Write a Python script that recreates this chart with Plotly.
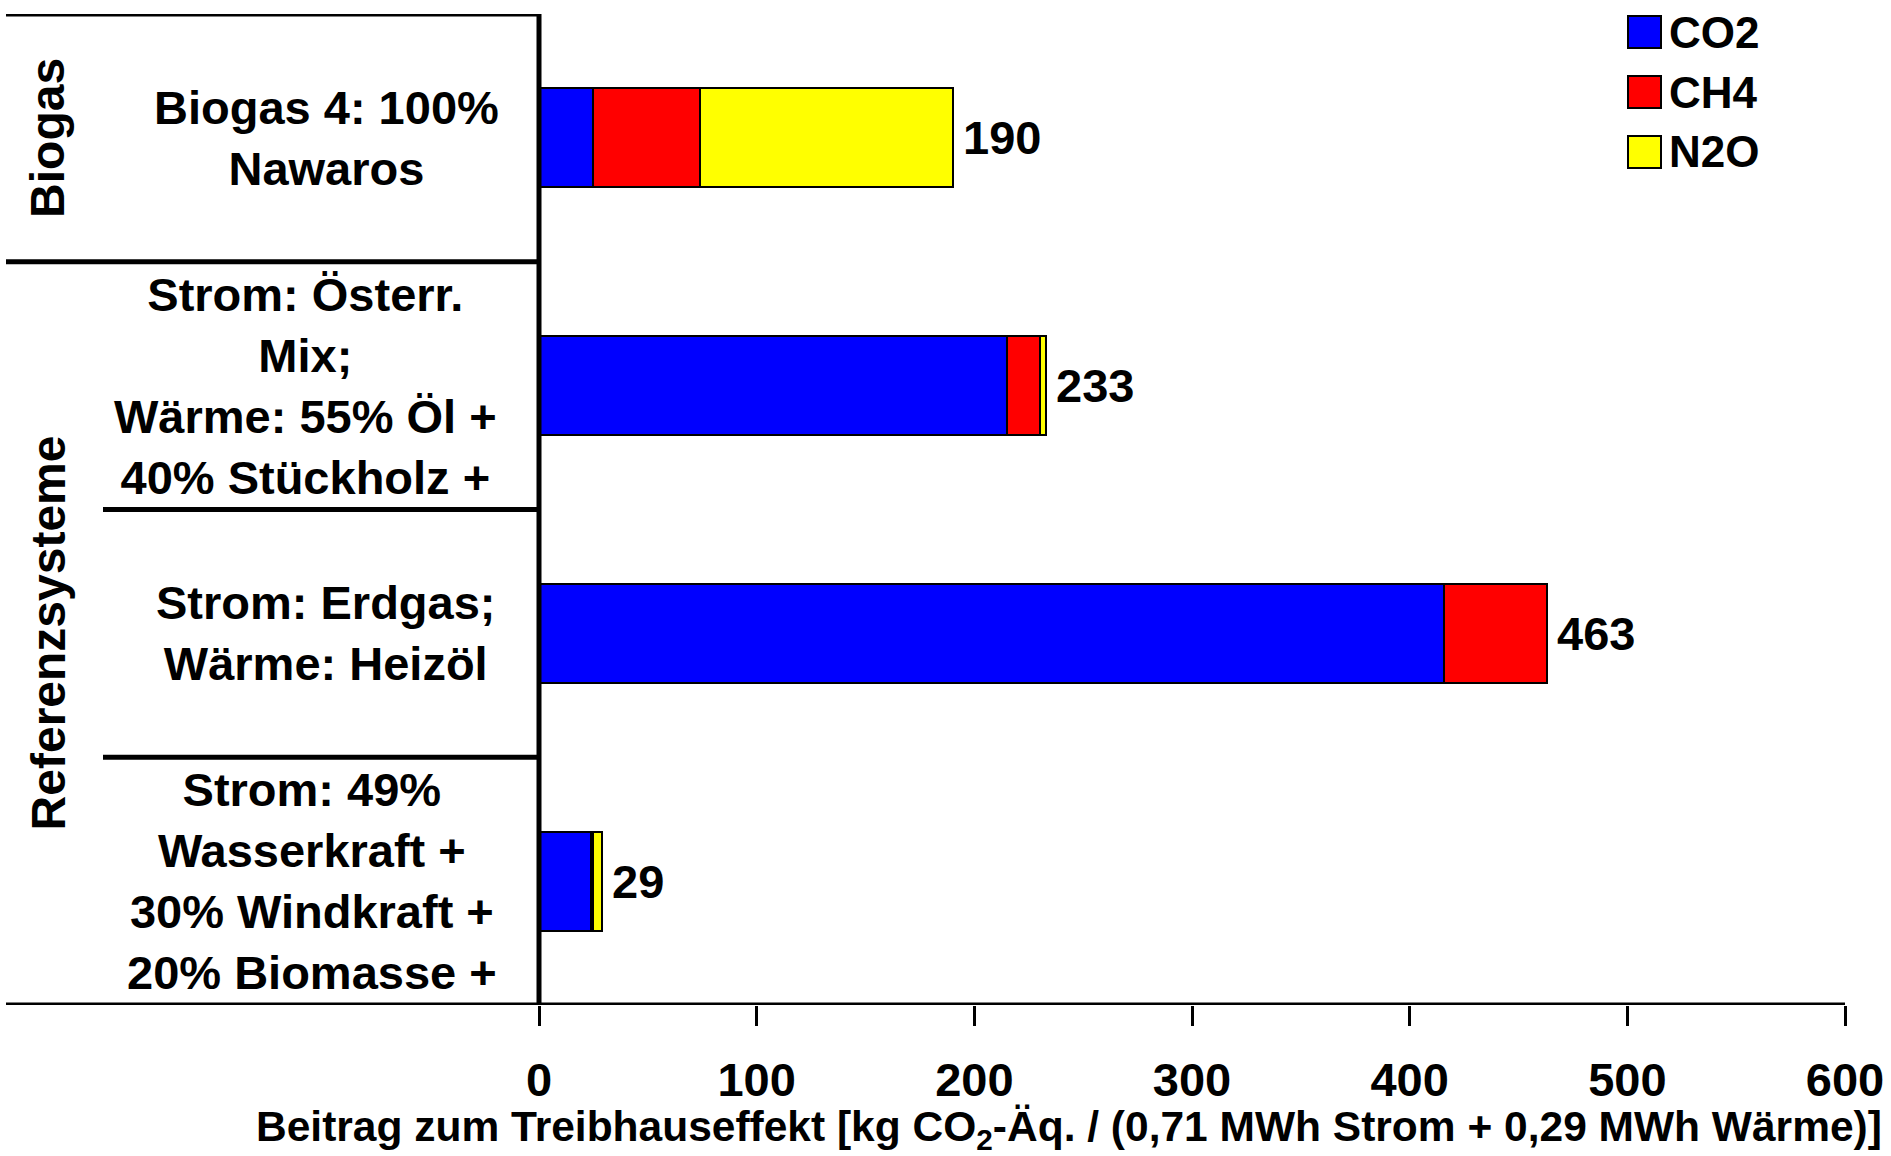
import plotly.graph_objects as go

# data
categories = [
    "Biogas 4: 100%<br>Nawaros",
    "Strom: Österr.<br>Mix;<br>Wärme: 55% Öl +<br>40% Stückholz +",
    "Strom: Erdgas;<br>Wärme: Heizöl",
    "Strom: 49%<br>Wasserkraft +<br>30% Windkraft +<br>20% Biomasse +",
]
groups = ["Biogas", "Referenzsysteme"]
series = ["CO2", "CH4", "N2O"]
co2 = [25, 215, 416, 24]
ch4 = [49, 15, 47, 1]
n2o = [116, 3, 0, 4]
totals = [190, 233, 463, 29]
x_ticks = [0, 100, 200, 300, 400, 500, 600]

colors = ["#0000FF", "#FF0000", "#FFFF00"]
FONT = "Liberation Sans, Arial, sans-serif"

W, H = 1891, 1156
L, R, T, B = 539, 1845, 14, 1005  # plot area in pixels


def px(x):
    return (x - L) / (R - L)


def py(y):
    return 1 - (y - T) / (B - T)


fig = go.Figure()
ypos = list(range(len(categories)))
for name, vals, col in zip(series, [co2, ch4, n2o], colors):
    fig.add_trace(go.Bar(
        x=vals, y=ypos, orientation="h", name=name, width=0.4,
        marker=dict(color=col, line=dict(color="black", width=2)),
        showlegend=False,
    ))

ann = []
# value labels
for i, t in enumerate(totals):
    ann.append(dict(x=t, y=i, xref="x", yref="y", text=str(t), showarrow=False,
                    xanchor="left", xshift=8, font=dict(size=47)))

# category labels
label_cx = [326, 305, 326, 312]
for i, (c, cx) in enumerate(zip(categories, label_cx)):
    ann.append(dict(x=px(cx), y=i, xref="paper", yref="y", text=c, showarrow=False,
                    xanchor="center", yanchor="middle", font=dict(size=47)))

# group labels
ann.append(dict(x=px(48), y=0, xref="paper", yref="y", text=groups[0], textangle=-90,
                xanchor="center", yanchor="middle", showarrow=False, font=dict(size=48)))
ann.append(dict(x=px(48), y=2, xref="paper", yref="y", text=groups[1], textangle=-90,
                xanchor="center", yanchor="middle", showarrow=False, font=dict(size=48)))

# x axis title
ann.append(dict(x=px(1884), y=py(1129), xref="paper", yref="paper",
                text="Beitrag zum Treibhauseffekt [kg CO<sub>2</sub>-Äq. / (0,71 MWh Strom + 0,29 MWh Wärme)]",
                showarrow=False, xanchor="right", yanchor="middle", font=dict(size=42.5)))

# legend
shapes = []
for k, (name, col) in enumerate(zip(series, colors)):
    y0 = 16 + k * 60
    shapes.append(dict(type="rect", xref="paper", yref="paper",
                       x0=px(1628), x1=px(1661), y0=py(y0 + 32), y1=py(y0),
                       fillcolor=col, line=dict(color="black", width=2)))
    ann.append(dict(x=px(1667), y=py(y0 + 16), xref="paper", yref="paper", text=name,
                    showarrow=False, xanchor="left", yanchor="middle", font=dict(size=44)))

# table lines
line = dict(color="black", width=5)
shapes.append(dict(type="line", xref="paper", yref="y", x0=px(6), x1=0, y0=-0.5, y1=-0.5, line=line))
shapes.append(dict(type="line", xref="paper", yref="y", x0=px(6), x1=0, y0=0.5, y1=0.5, line=line))
shapes.append(dict(type="line", xref="paper", yref="y", x0=px(103), x1=0, y0=1.5, y1=1.5, line=line))
shapes.append(dict(type="line", xref="paper", yref="y", x0=px(103), x1=0, y0=2.5, y1=2.5, line=line))
shapes.append(dict(type="line", xref="paper", yref="y", x0=px(6), x1=1, y0=3.5, y1=3.5, line=line))
shapes.append(dict(type="line", xref="paper", yref="y", x0=0, x1=0, y0=-0.5, y1=3.5, line=line))

fig.update_layout(
    width=W, height=H,
    margin=dict(l=L, r=W - R, t=T, b=H - B, pad=0, autoexpand=False),
    barmode="stack",
    plot_bgcolor="white", paper_bgcolor="white",
    font=dict(family=FONT, color="black", size=47, weight="bold"),
    annotations=ann, shapes=shapes,
    xaxis=dict(range=[0, 600], tickvals=x_ticks, ticks="outside", ticklen=20, tickwidth=3,
               tickcolor="black", showgrid=False, zeroline=False, showline=False,
               automargin=False, ticklabelstandoff=14, tickfont=dict(size=47)),
    yaxis=dict(range=[3.5, -0.5], showticklabels=False, showgrid=False, zeroline=False,
               showline=False, ticks="", automargin=False),
    bargap=0.6,
)

fig.write_html(
    "out.html",
    config={"displayModeBar": False},
    post_script="document.body.style.margin='0';document.body.style.overflow='hidden';"
                "document.documentElement.style.overflow='hidden';",
)
